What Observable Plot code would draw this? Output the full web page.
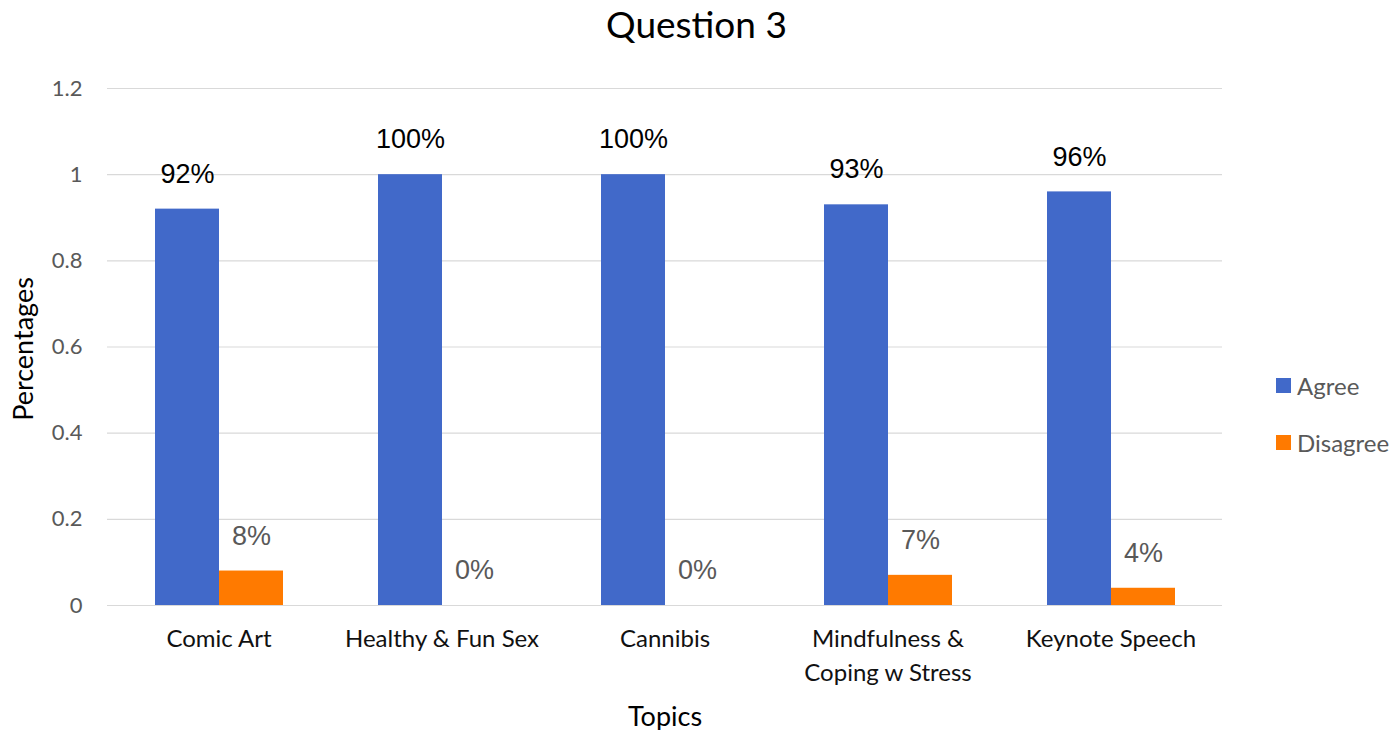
<!DOCTYPE html>
<html>
<head>
<meta charset="utf-8">
<script src="https://cdn.jsdelivr.net/npm/d3@7"></script>
<script src="https://cdn.jsdelivr.net/npm/@observablehq/plot@0.6"></script>
<style>
  html, body { margin: 0; padding: 0; background: #fff; }
  #wrap { position: relative; width: 1393px; height: 730px; font-family: Lato, "Open Sans", sans-serif; }
  #title { height: 56px; line-height: 48px; text-align: center; font-size: 37px; color: #000; }
  #legend { position: absolute; left: 1276px; top: 371px; font-size: 24px; color: #595959; }
  .item { display: flex; align-items: center; height: 28px; margin-bottom: 29px; }
  .sw { width: 15px; height: 15px; margin-right: 6px; }
  .axlabel { position: absolute; font-size: 27px; color: #000; white-space: nowrap; transform: translate(-50%, -50%); }
  #ylab { left: 22px; top: 349px; transform: translate(-50%, -50%) rotate(-90deg); }
  #xlab { left: 665px; top: 715px; font-size: 27px; }
</style>
</head>
<body>
<div id="wrap">
  <div id="title">Question 3</div>
  <div id="chart"></div>
  <div id="legend"></div>
  <div class="axlabel" id="ylab">Percentages</div>
  <div class="axlabel" id="xlab">Topics</div>
</div>
<script>
const topics = ["Comic Art", "Healthy & Fun Sex", "Cannibis", "Mindfulness &\nCoping w Stress", "Keynote Speech"];
const series = ["Agree", "Disagree"];
const agree = [0.92, 1.00, 1.00, 0.93, 0.96];
const disagree = [0.08, 0.00, 0.00, 0.07, 0.04];
const yTicks = [0, 0.2, 0.4, 0.6, 0.8, 1, 1.2];
const colors = ["#4169C9", "#FF7A00"];

const data = topics.flatMap((t, i) => [
  {topic: t, series: "Agree", value: agree[i]},
  {topic: t, series: "Disagree", value: disagree[i]}
]);
const pct = d => Math.round(d.value * 100) + "%";

const chart = Plot.plot({
  width: 1393,
  height: 674,
  marginLeft: 107,
  marginRight: 171,
  marginTop: 32,
  marginBottom: 125,
  style: {fontFamily: "Lato, 'Open Sans', sans-serif", background: "#fff"},
  fx: {domain: topics, padding: 0, label: null},
  x: {domain: series, paddingInner: 0, paddingOuter: 0.74, axis: null},
  y: {domain: [0, 1.2]},
  color: {domain: series, range: colors},
  marks: [
    Plot.gridY(yTicks, {stroke: "#d9d9d9", strokeOpacity: 1, strokeWidth: 1.2}),
    Plot.barY(data, {fx: "topic", x: "series", y: "value", fill: "series"}),
    Plot.text(data, {filter: d => d.series === "Agree", fx: "topic", x: "series", y: "value", text: pct, dy: -35,
      fill: "#000", fontSize: 27, fontFamily: "Liberation Sans, Arial, sans-serif"}),
    Plot.text(data, {filter: d => d.series === "Disagree", fx: "topic", x: "series", y: "value", text: pct, dy: -35,
      fill: "#595959", fontSize: 27, fontFamily: "Liberation Sans, Arial, sans-serif"}),
    Plot.axisY(yTicks, {tickSize: 0, tickPadding: 25, tickFormat: d => String(d), fontSize: 22, fill: "#595959", label: null}),
    Plot.axisFx({anchor: "bottom", tickSize: 0, tickPadding: 17, fontSize: 24, lineHeight: 1.42, fill: "#111", label: null})
  ]
});
document.getElementById("chart").appendChild(chart);

const legend = document.getElementById("legend");
series.forEach((s, i) => {
  const it = document.createElement("div");
  it.className = "item";
  it.innerHTML = `<span class="sw" style="background:${colors[i]}"></span><span>${s}</span>`;
  legend.appendChild(it);
});
</script>
</body>
</html>
